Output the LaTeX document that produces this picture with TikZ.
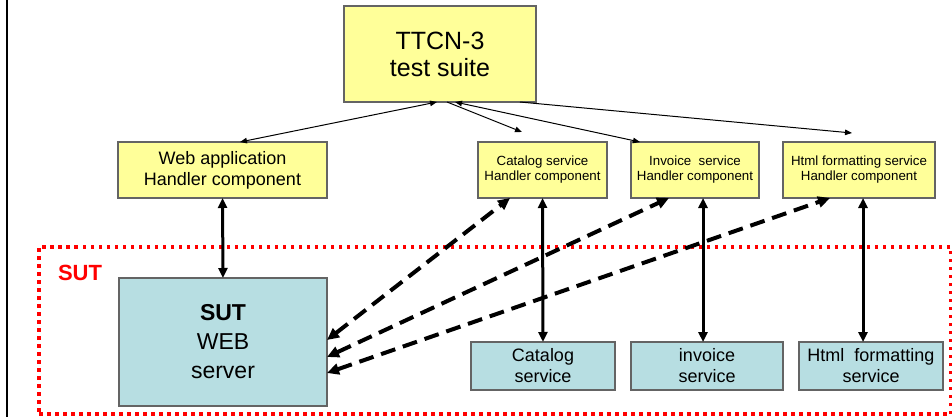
\documentclass[tikz,border=0pt]{standalone}
\usepackage{fontspec}
\setmainfont{Liberation Sans}
\usetikzlibrary{arrows.meta,calc}
\definecolor{handlerfill}{RGB}{255,255,153}
\definecolor{sutfill}{RGB}{183,222,226}
\definecolor{boxline}{RGB}{100,100,100}

\begin{document}
\begin{tikzpicture}[
    x=1pt, y=-1pt,
    box/.style={
        draw=boxline,
        line width=1.2pt,
        outer sep=0pt,
        align=center,
        inner sep=0pt
    },
    handler/.style={box, fill=handlerfill, minimum height=56pt},
    service/.style={box, fill=sutfill},
    thinarrow/.style={{Triangle[length=7pt,width=5.5pt]}-{Triangle[length=7pt,width=5.5pt]}, line width=1pt},
    onearrow/.style={-{Triangle[length=7pt,width=5.5pt]}, line width=1pt},
    thickarrow/.style={{Triangle[length=10pt,width=9pt]}-{Triangle[length=10pt,width=9pt]}, line width=3pt},
    dasharrow/.style={{Triangle[length=12pt,width=11pt]}-{Triangle[length=12pt,width=11pt]}, line width=4pt, dash pattern=on 15pt off 8pt},
    sutframe/.style={draw=red, line width=3.5pt, dash pattern=on 3.5pt off 4.5pt}
]
\useasboundingbox (0,0) rectangle (952,417);

% slide border
\draw[line width=2.5pt] (7,0) -- (7,417);

% test system
\node[box, fill=handlerfill, minimum width=192pt, minimum height=96pt,
      font=\fontsize{25}{27}\selectfont] (ttcn) at (440,54) {TTCN-3\\test suite};

\node[handler, minimum width=209pt, font=\fontsize{18}{21}\selectfont] (webh) at (222.5,170)
    {Web application\\Handler component};
\node[handler, minimum width=129pt, font=\fontsize{13.3}{15}\selectfont] (cath) at (542.5,170)
    {Catalog service\\Handler component};
\node[handler, minimum width=128pt, font=\fontsize{13.3}{15}\selectfont] (invh) at (695,170)
    {Invoice~ service\\Handler component};
\node[handler, minimum width=152pt, font=\fontsize{13.3}{15}\selectfont] (htmlh) at (859,170)
    {Html formatting service\\Handler component};

% system under test
\node[sutframe, minimum width=912pt, minimum height=167pt] (sutarea) at (495,330.5) {};
\node[text=red, font=\fontsize{22}{24}\selectfont\bfseries] (sutlabel) at (80,273) {SUT};

\node[service, minimum width=208pt, minimum height=128pt,
      font=\fontsize{23}{29}\selectfont] (sut) at (223,342) {\textbf{SUT}\\WEB\\server};
\node[service, minimum width=144pt, minimum height=48pt,
      font=\fontsize{18}{21}\selectfont] (cats) at (543,366) {Catalog\\service};
\node[service, minimum width=152pt, minimum height=48pt,
      font=\fontsize{18}{21}\selectfont] (invs) at (707,366) {invoice\\service};
\node[service, minimum width=144pt, minimum height=48pt,
      font=\fontsize{18}{21}\selectfont] (htmls) at (871,366) {Html~ formatting\\service};

% control links
\draw[thinarrow] ([xshift=17.5pt]webh.north) -- ([xshift=-3pt]ttcn.south);
\draw[onearrow] ([xshift=7pt]ttcn.south) -- ([xshift=-20.5pt,yshift=10pt]cath.north);
\draw[thinarrow] ([xshift=15pt]ttcn.south) -- ([xshift=-55pt]invh.north);
\draw[onearrow] ([xshift=80pt]ttcn.south) -- ([xshift=-7pt,yshift=9pt]htmlh.north);

% handler <-> SUT
\draw[thickarrow] (webh.south) -- (sut.north);
\draw[thickarrow] (cath.south) -- (cats.north);
\draw[thickarrow] ([xshift=8pt]invh.south) -- ([xshift=-4pt]invs.north);
\draw[thickarrow] ([xshift=4pt]htmlh.south) -- ([xshift=-8pt]htmls.north);

\draw[dasharrow] ([yshift=2pt]sut.east) -- ([xshift=-32.5pt]cath.south);
\draw[dasharrow] ([yshift=-15pt]sut.east) -- ([xshift=-26pt]invh.south);
\draw[dasharrow] ([yshift=-31pt]sut.east) -- ([xshift=-29pt]htmlh.south);

\end{tikzpicture}
\end{document}
